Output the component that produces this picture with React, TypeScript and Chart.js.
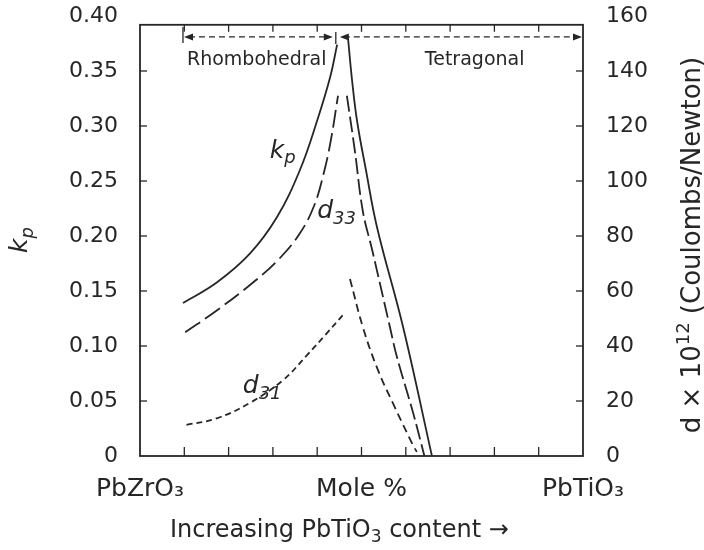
import React, { useEffect, useRef } from 'react';
import { Chart, registerables } from 'chart.js';

Chart.register(...registerables);

// ---------------- data ----------------
// x: mole % PbTiO3 (0 = PbZrO3, 100 = PbTiO3)
const kpRhombX = [9.7, 17.4, 24.8, 30.9, 36.1, 40, 42.9, 44.5];
const kpRhombY = [0.139, 0.158, 0.184, 0.217, 0.26, 0.305, 0.344, 0.374];
const kpTetraX = [46.95, 47.86, 48.98, 51.0, 53.5, 59.4, 65.9];
const kpTetraY = [0.38, 0.342, 0.305, 0.26, 0.208, 0.117, 0];

const d33RhombX = [10.2, 17.4, 26.2, 31.6, 36.1, 39.3, 41.5, 43.1, 44.7];
const d33RhombY = [45, 53, 64, 72, 81, 91, 103, 115, 131];
const d33TetraX = [46.7, 48.5, 50.3, 52.4, 56.4, 58, 61.6, 64.2];
const d33TetraY = [131, 111, 89, 75, 47, 36, 16, 0];

const d31RhombX = [10.5, 17.3, 24.8, 32.3, 37.6, 42.1, 45.8];
const d31RhombY = [11.3, 13.7, 19.3, 27.6, 36.5, 44.5, 51.3];
const d31TetraX = [47.4, 50.3, 53.7, 57.3, 61.6, 62.5];
const d31TetraY = [64.4, 46.9, 31.3, 18.5, 4, 1.5];

const xLabelValues = [0, 50, 100];
const xLabelTexts = ['PbZrO\u2083', 'Mole %', 'PbTiO\u2083'];

const phaseNames = ['Rhombohedral', 'Tetragonal'];
const phaseBounds = [9.7, 44.2, 100];

// ---------------- style ----------------
const INK = '#262626';
const FAM = '"DejaVu Sans", "Liberation Sans", sans-serif';
const FRAME_TOP = 0.392;
const ARROW_LEVEL = 0.381;

type Run = { t: string; sub?: boolean; sup?: boolean };

function drawRich(
  ctx: CanvasRenderingContext2D,
  runs: Run[],
  x: number,
  y: number,
  size: number,
  style: string,
  align: 'left' | 'center'
) {
  const sizes = runs.map((r) => (r.sub || r.sup ? Math.round(size * 0.7) : size));
  const widths = runs.map((r, i) => {
    ctx.font = `${style} ${sizes[i]}px ${FAM}`;
    return ctx.measureText(r.t).width;
  });
  const total = widths.reduce((a, b) => a + b, 0);
  let cx = align === 'center' ? x - total / 2 : x;
  ctx.textAlign = 'left';
  ctx.textBaseline = 'alphabetic';
  runs.forEach((r, i) => {
    ctx.font = `${style} ${sizes[i]}px ${FAM}`;
    const dy = r.sub ? size * 0.22 : r.sup ? -size * 0.42 : 0;
    ctx.fillText(r.t, cx, y + dy);
    cx += widths[i];
  });
}

function zip(xs: number[], ys: number[]) {
  return xs.map((x, i) => ({ x, y: ys[i] }));
}

const overlay = {
  id: 'overlay',
  beforeDraw(chart: any) {
    const { ctx, width, height } = chart;
    ctx.save();
    ctx.fillStyle = '#ffffff';
    ctx.fillRect(0, 0, width, height);
    ctx.restore();
  },
  afterDraw(chart: any) {
    const { ctx } = chart;
    const sx = chart.scales.x;
    const sl = chart.scales.yL;
    const sr = chart.scales.yR;
    const X = (v: number) => sx.getPixelForValue(v);
    const YL = (v: number) => sl.getPixelForValue(v);
    const YR = (v: number) => sr.getPixelForValue(v);
    const left = X(0);
    const right = X(100);
    const bottom = YL(0);
    const top = YL(FRAME_TOP);

    ctx.save();
    ctx.strokeStyle = INK;
    ctx.fillStyle = INK;
    ctx.lineWidth = 1.8;
    ctx.setLineDash([]);
    ctx.strokeRect(left, top, right - left, bottom - top);

    const line = (x1: number, y1: number, x2: number, y2: number) => {
      ctx.beginPath();
      ctx.moveTo(x1, y1);
      ctx.lineTo(x2, y2);
      ctx.stroke();
    };
    ctx.lineWidth = 1.3;
    sx.ticks.forEach((t: any) => {
      if (t.value <= 0 || t.value >= 100) return;
      const px = X(t.value);
      line(px, bottom, px, bottom - 9);
      line(px, top, px, top + 7);
    });
    sl.ticks.forEach((t: any) => {
      if (t.value <= 0 || t.value >= FRAME_TOP) return;
      const py = YL(t.value);
      line(left, py, left + 7, py);
    });
    sr.ticks.forEach((t: any) => {
      const py = YR(t.value);
      if (t.value <= 0 || py <= top) return;
      line(right, py, right - 7, py);
    });

    // phase arrows
    const ay = YL(ARROW_LEVEL);
    const head = (tipX: number, dir: number) => {
      ctx.beginPath();
      ctx.moveTo(tipX, ay);
      ctx.lineTo(tipX - dir * 9, ay - 3.5);
      ctx.lineTo(tipX - dir * 9, ay + 3.5);
      ctx.closePath();
      ctx.fill();
    };
    const a0 = X(phaseBounds[0]);
    const a1 = X(phaseBounds[1]);
    const a2 = X(phaseBounds[2]);
    ctx.lineWidth = 1.3;
    line(a0, ay - 10, a0, ay + 6);
    line(a1, ay - 5, a1, ay + 7);
    ctx.setLineDash([6, 4]);
    line(a0 + 6, ay, a1 - 8, ay);
    line(a1 + 8, ay, a2 - 6, ay);
    ctx.setLineDash([]);
    head(a0 + 1, -1);
    head(a1 - 3, 1);
    head(a1 + 4, -1);
    head(a2 - 1, 1);

    ctx.fillStyle = INK;
    drawRich(ctx, [{ t: phaseNames[0] }], X(10.6), YL(0.3555), 19, 'normal', 'left');
    drawRich(ctx, [{ t: phaseNames[1] }], X(64.3), YL(0.3555), 19, 'normal', 'left');

    // curve labels
    drawRich(ctx, [{ t: 'k' }, { t: 'p', sub: true }], X(29.3), YL(0.271), 25, 'italic', 'left');
    drawRich(ctx, [{ t: 'd' }, { t: '33', sub: true }], X(40), YR(86.5), 25, 'italic', 'left');
    drawRich(ctx, [{ t: 'd' }, { t: '31', sub: true }], X(23.2), YR(22.9), 25, 'italic', 'left');

    // axis titles
    const ca = chart.chartArea;
    ctx.save();
    ctx.translate(27, (ca.top + ca.bottom) / 2 + 4);
    ctx.rotate(-Math.PI / 2);
    drawRich(ctx, [{ t: 'k' }, { t: 'p', sub: true }], 0, 0, 25, 'italic', 'center');
    ctx.restore();

    ctx.save();
    ctx.translate(700, (ca.top + ca.bottom) / 2 + 9);
    ctx.rotate(-Math.PI / 2);
    drawRich(
      ctx,
      [{ t: 'd \u00d7 10' }, { t: '12', sup: true }, { t: ' (Coulombs/Newton)' }],
      0,
      0,
      26,
      'normal',
      'center'
    );
    ctx.restore();

    drawRich(
      ctx,
      [{ t: 'Increasing PbTiO' }, { t: '3', sub: true }, { t: ' content \u2192' }],
      ca.left + 30,
      ca.bottom + 81,
      24,
      'normal',
      'left'
    );
    ctx.restore();
  },
};

export default function App() {
  const ref = useRef<HTMLCanvasElement | null>(null);
  useEffect(() => {
    if (!ref.current) return;
    const lineDs = (label: string, data: any[], axis: string, dash: number[]) => ({
      label,
      data,
      yAxisID: axis,
      borderColor: INK,
      borderWidth: 1.8,
      borderDash: dash,
      pointRadius: 0,
      fill: false,
      tension: 0.4,
    });
    const noPadY = (w: number) => (s: any) => {
      s.width = w;
      s.paddingTop = 0;
      s.paddingBottom = 0;
    };
    const chart = new Chart(ref.current, {
      type: 'line',
      data: {
        datasets: [
          lineDs('kp', zip(kpRhombX, kpRhombY), 'yL', []),
          lineDs('kp', zip(kpTetraX, kpTetraY), 'yL', []),
          lineDs('d33', zip(d33RhombX, d33RhombY), 'yR', [18, 6]),
          lineDs('d33', zip(d33TetraX, d33TetraY), 'yR', [16, 5]),
          lineDs('d31', zip(d31RhombX, d31RhombY), 'yR', [6, 4]),
          lineDs('d31', zip(d31TetraX, d31TetraY), 'yR', [8, 5]),
        ],
      },
      options: {
        responsive: false,
        animation: false,
        devicePixelRatio: 1,
        layout: { padding: { top: 16, left: 0, right: 0, bottom: 0 } },
        plugins: { legend: { display: false }, tooltip: { enabled: false } },
        scales: {
          x: {
            type: 'linear',
            min: 0,
            max: 100,
            border: { display: false },
            grid: { display: false, drawTicks: false },
            ticks: {
              stepSize: 10,
              autoSkip: false,
              maxRotation: 0,
              minRotation: 0,
              padding: 18,
              color: INK,
              font: { family: FAM, size: 25 },
              callback: (v: any) => {
                const i = xLabelValues.indexOf(Number(v));
                return i >= 0 ? xLabelTexts[i] : '';
              },
            },
            afterFit: (s: any) => {
              s.height = 94;
              s.paddingLeft = 0;
              s.paddingRight = 0;
            },
          },
          yL: {
            type: 'linear',
            position: 'left',
            min: 0,
            max: 0.4,
            border: { display: false },
            grid: { display: false, drawTicks: false },
            ticks: {
              stepSize: 0.05,
              padding: 22,
              color: INK,
              font: { family: FAM, size: 22 },
              callback: (v: any) => (Number(v) === 0 ? '0' : Number(v).toFixed(2)),
            },
            afterFit: noPadY(140),
          },
          yR: {
            type: 'linear',
            position: 'right',
            min: 0,
            max: 160,
            border: { display: false },
            grid: { display: false, drawTicks: false },
            ticks: {
              stepSize: 20,
              padding: 23,
              color: INK,
              font: { family: FAM, size: 22 },
            },
            afterFit: noPadY(121),
          },
        },
      },
      plugins: [overlay],
    });
    return () => chart.destroy();
  }, []);
  return (
    <div style={{ position: 'fixed', left: 0, top: 0, width: 704, height: 550, background: '#fff' }}>
      <canvas ref={ref} width={704} height={550} style={{ display: 'block' }} />
    </div>
  );
}
